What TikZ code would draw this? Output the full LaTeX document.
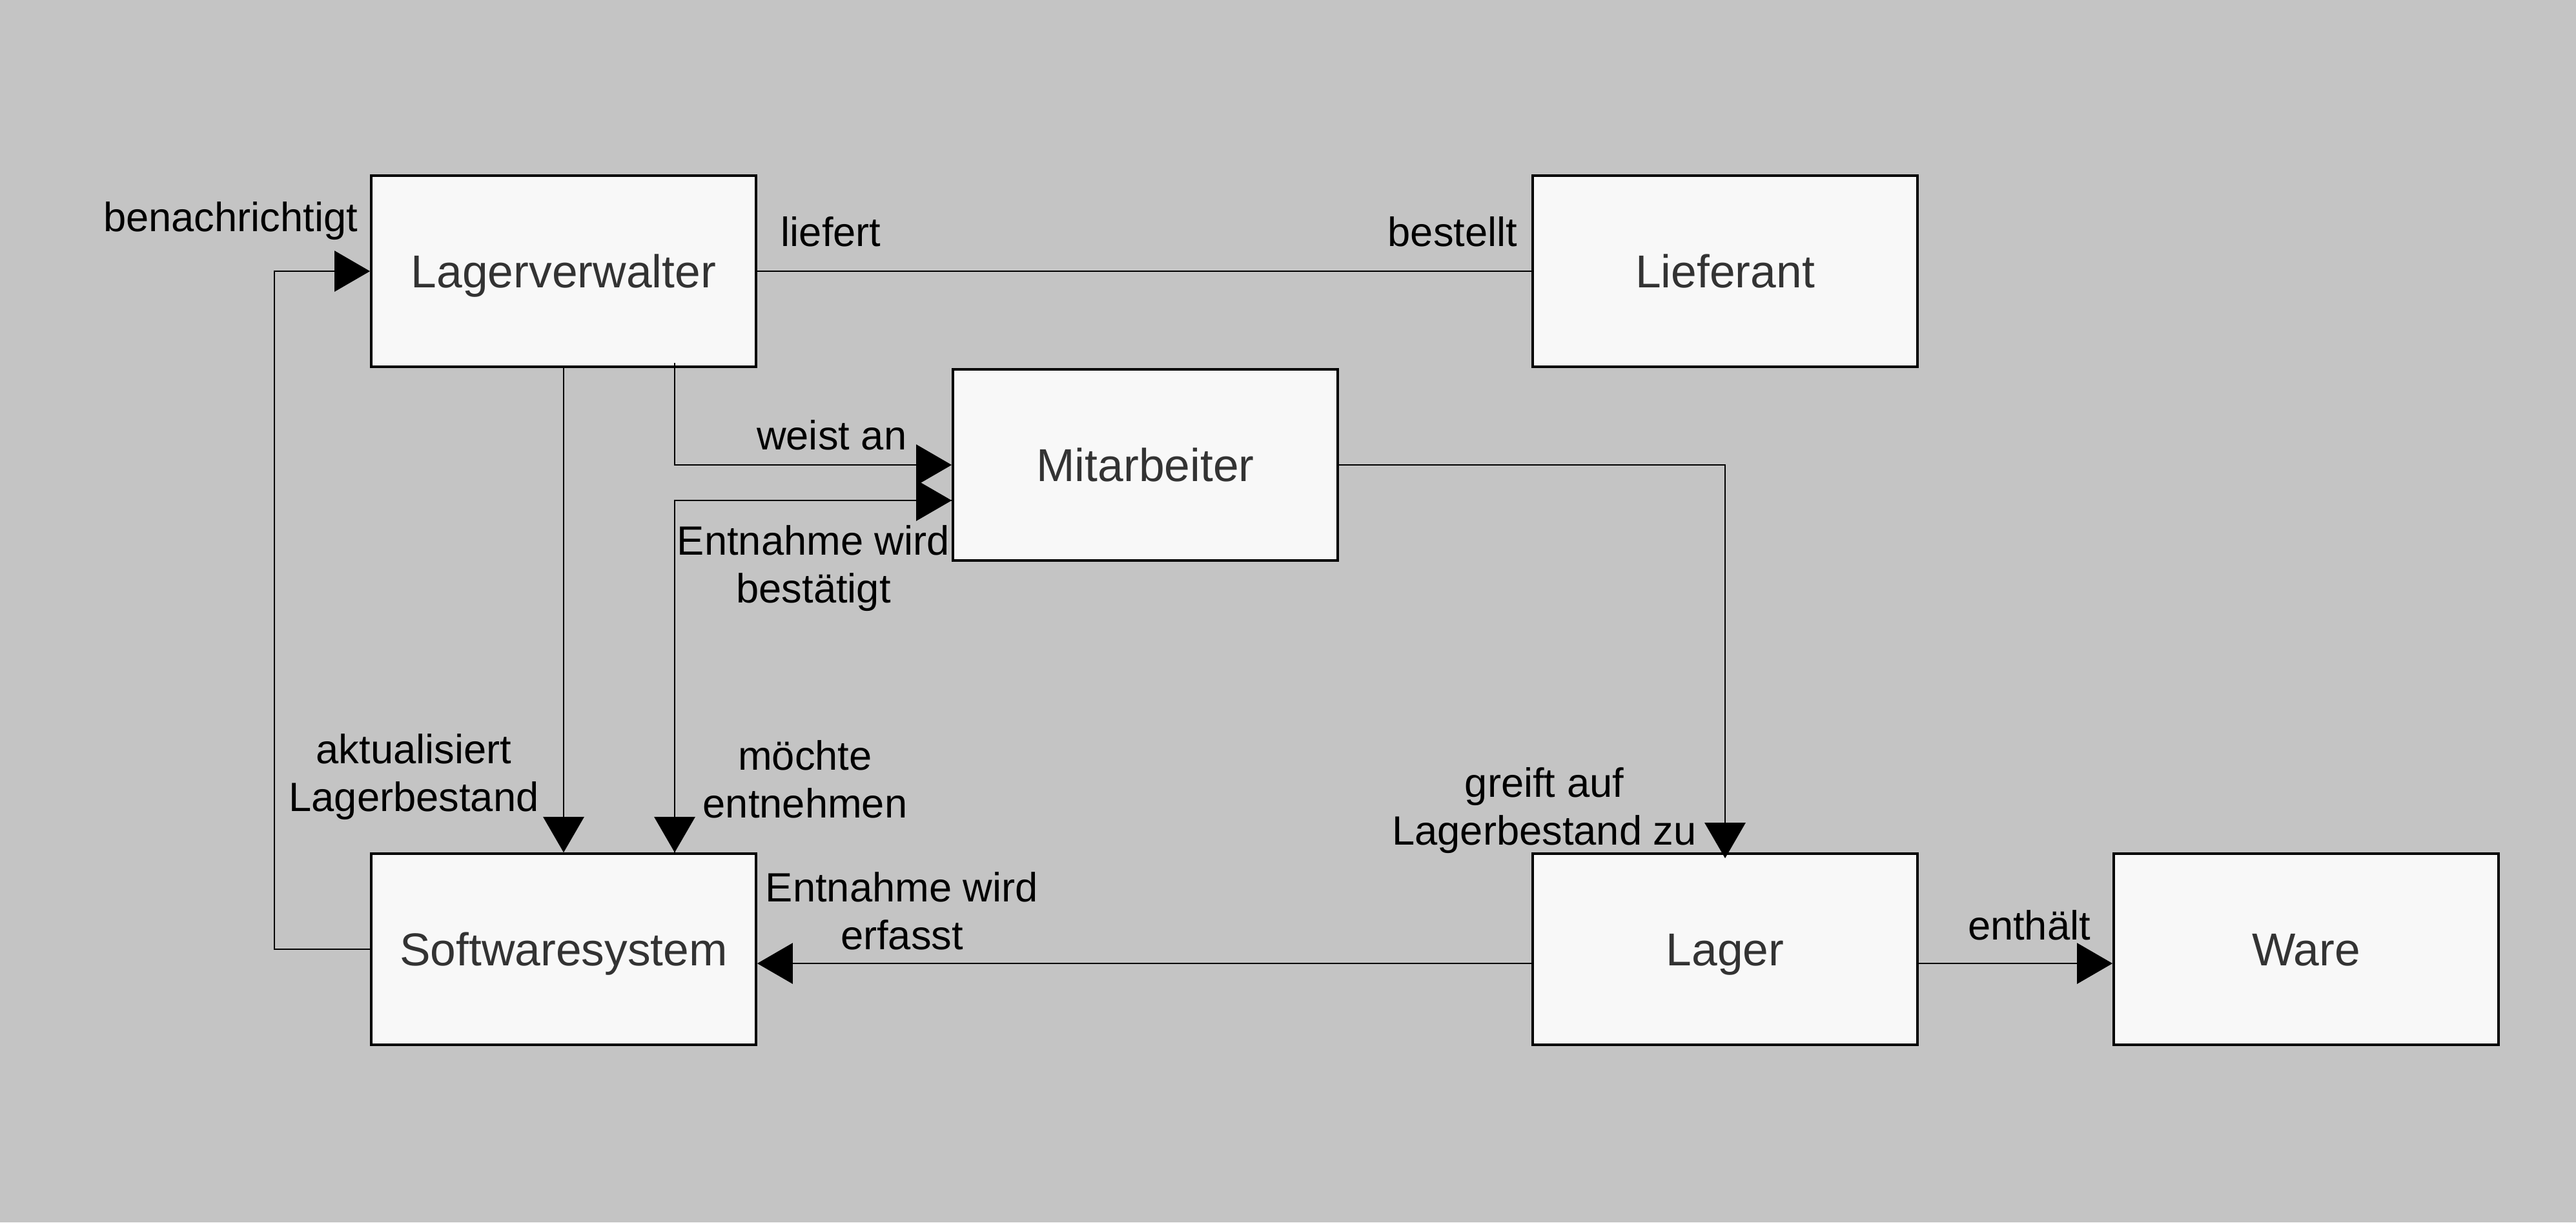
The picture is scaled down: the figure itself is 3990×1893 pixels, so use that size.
\documentclass[tikz,border=0pt]{standalone}
\usepackage{fontspec}
\setmainfont{Liberation Sans}
\usetikzlibrary{arrows.meta,calc}
\definecolor{bg}{HTML}{C4C4C4}
\definecolor{boxfill}{HTML}{F8F8F8}
\definecolor{boxtext}{HTML}{333333}
\begin{document}
\begin{tikzpicture}[x=0.01cm,y=-0.01cm,
  entity/.style={draw=black, line width=1pt, fill=boxfill, minimum width=5.96cm, minimum height=2.96cm, inner sep=0pt, text=boxtext, font=\fontsize{20.3}{24}\selectfont, text height=14.5pt, text depth=0pt},
  conn/.style={draw=black, line width=0.8pt},
  arr/.style={conn, -{Triangle[length=0.55cm,width=0.63cm]}},
  lbl/.style={font=\fontsize{18}{21}\selectfont, align=center, inner sep=0pt, text=black}]
\fill[bg] (0,0) rectangle (3990,1893);
\useasboundingbox (0,0) rectangle (3990,1893);

\node[entity] (lv) at (873,420) {Lagerverwalter};
\node[entity] (lf) at (2672,420) {Lieferant};
\node[entity] (mit) at (1774,720) {Mitarbeiter};
\node[entity] (sw) at (873,1470) {Softwaresystem};
\node[entity] (lag) at (2672,1470) {Lager};
\node[entity] (ware) at (3572,1470) {Ware};

\coordinate (c1) at (1045,562);
\coordinate (loopx) at (425,0);

% Lagerverwalter -- Lieferant
\draw[conn] (lv) -- (lf);
% Lagerverwalter -> Softwaresystem
\draw[arr] (lv) -- (sw);
% weist an
\draw[arr] (c1) |- (mit.west);
% Entnahme wird bestaetigt
\draw[arr] (sw.north -| c1) |- ([yshift=-0.55cm]mit.west);
% moechte entnehmen
\draw[arr] ([yshift=-0.55cm]mit.west) -| (sw.north -| c1);
% benachrichtigt
\draw[arr] (sw.west) -- (sw.west -| loopx) |- (lv.west);
% greift auf Lagerbestand zu
\draw[arr, shorten >=-0.09cm] (mit.east) -| (lag.north);
% Entnahme wird erfasst
\draw[arr] ([yshift=-0.22cm]lag.west) -- ([yshift=-0.22cm]sw.east);
% enthaelt
\draw[arr] ([yshift=-0.22cm]lag.east) -- ([yshift=-0.22cm]ware.west);

\node[lbl, anchor=west] (l1) at (1209,359) {liefert};
\node[lbl, anchor=east] (l2) at (2351,359) {bestellt};
\node[lbl, anchor=east] (l3) at (555,342) {benachrichtigt};
\node[lbl, anchor=east] (l4) at (1405,674) {weist an};
\node[lbl] (l5) at (1260,880) {Entnahme wird\\bestätigt};
\node[lbl] (l6) at (1247,1207) {möchte\\entnehmen};
\node[lbl] (l7) at (641,1203) {aktualisiert\\Lagerbestand};
\node[lbl] (l8) at (2392,1255) {greift auf\\Lagerbestand zu};
\node[lbl] (l9) at (1397,1411) {Entnahme wird\\erfasst};
\node[lbl] (l10) at (3143,1433) {enthält};
\end{tikzpicture}
\end{document}
